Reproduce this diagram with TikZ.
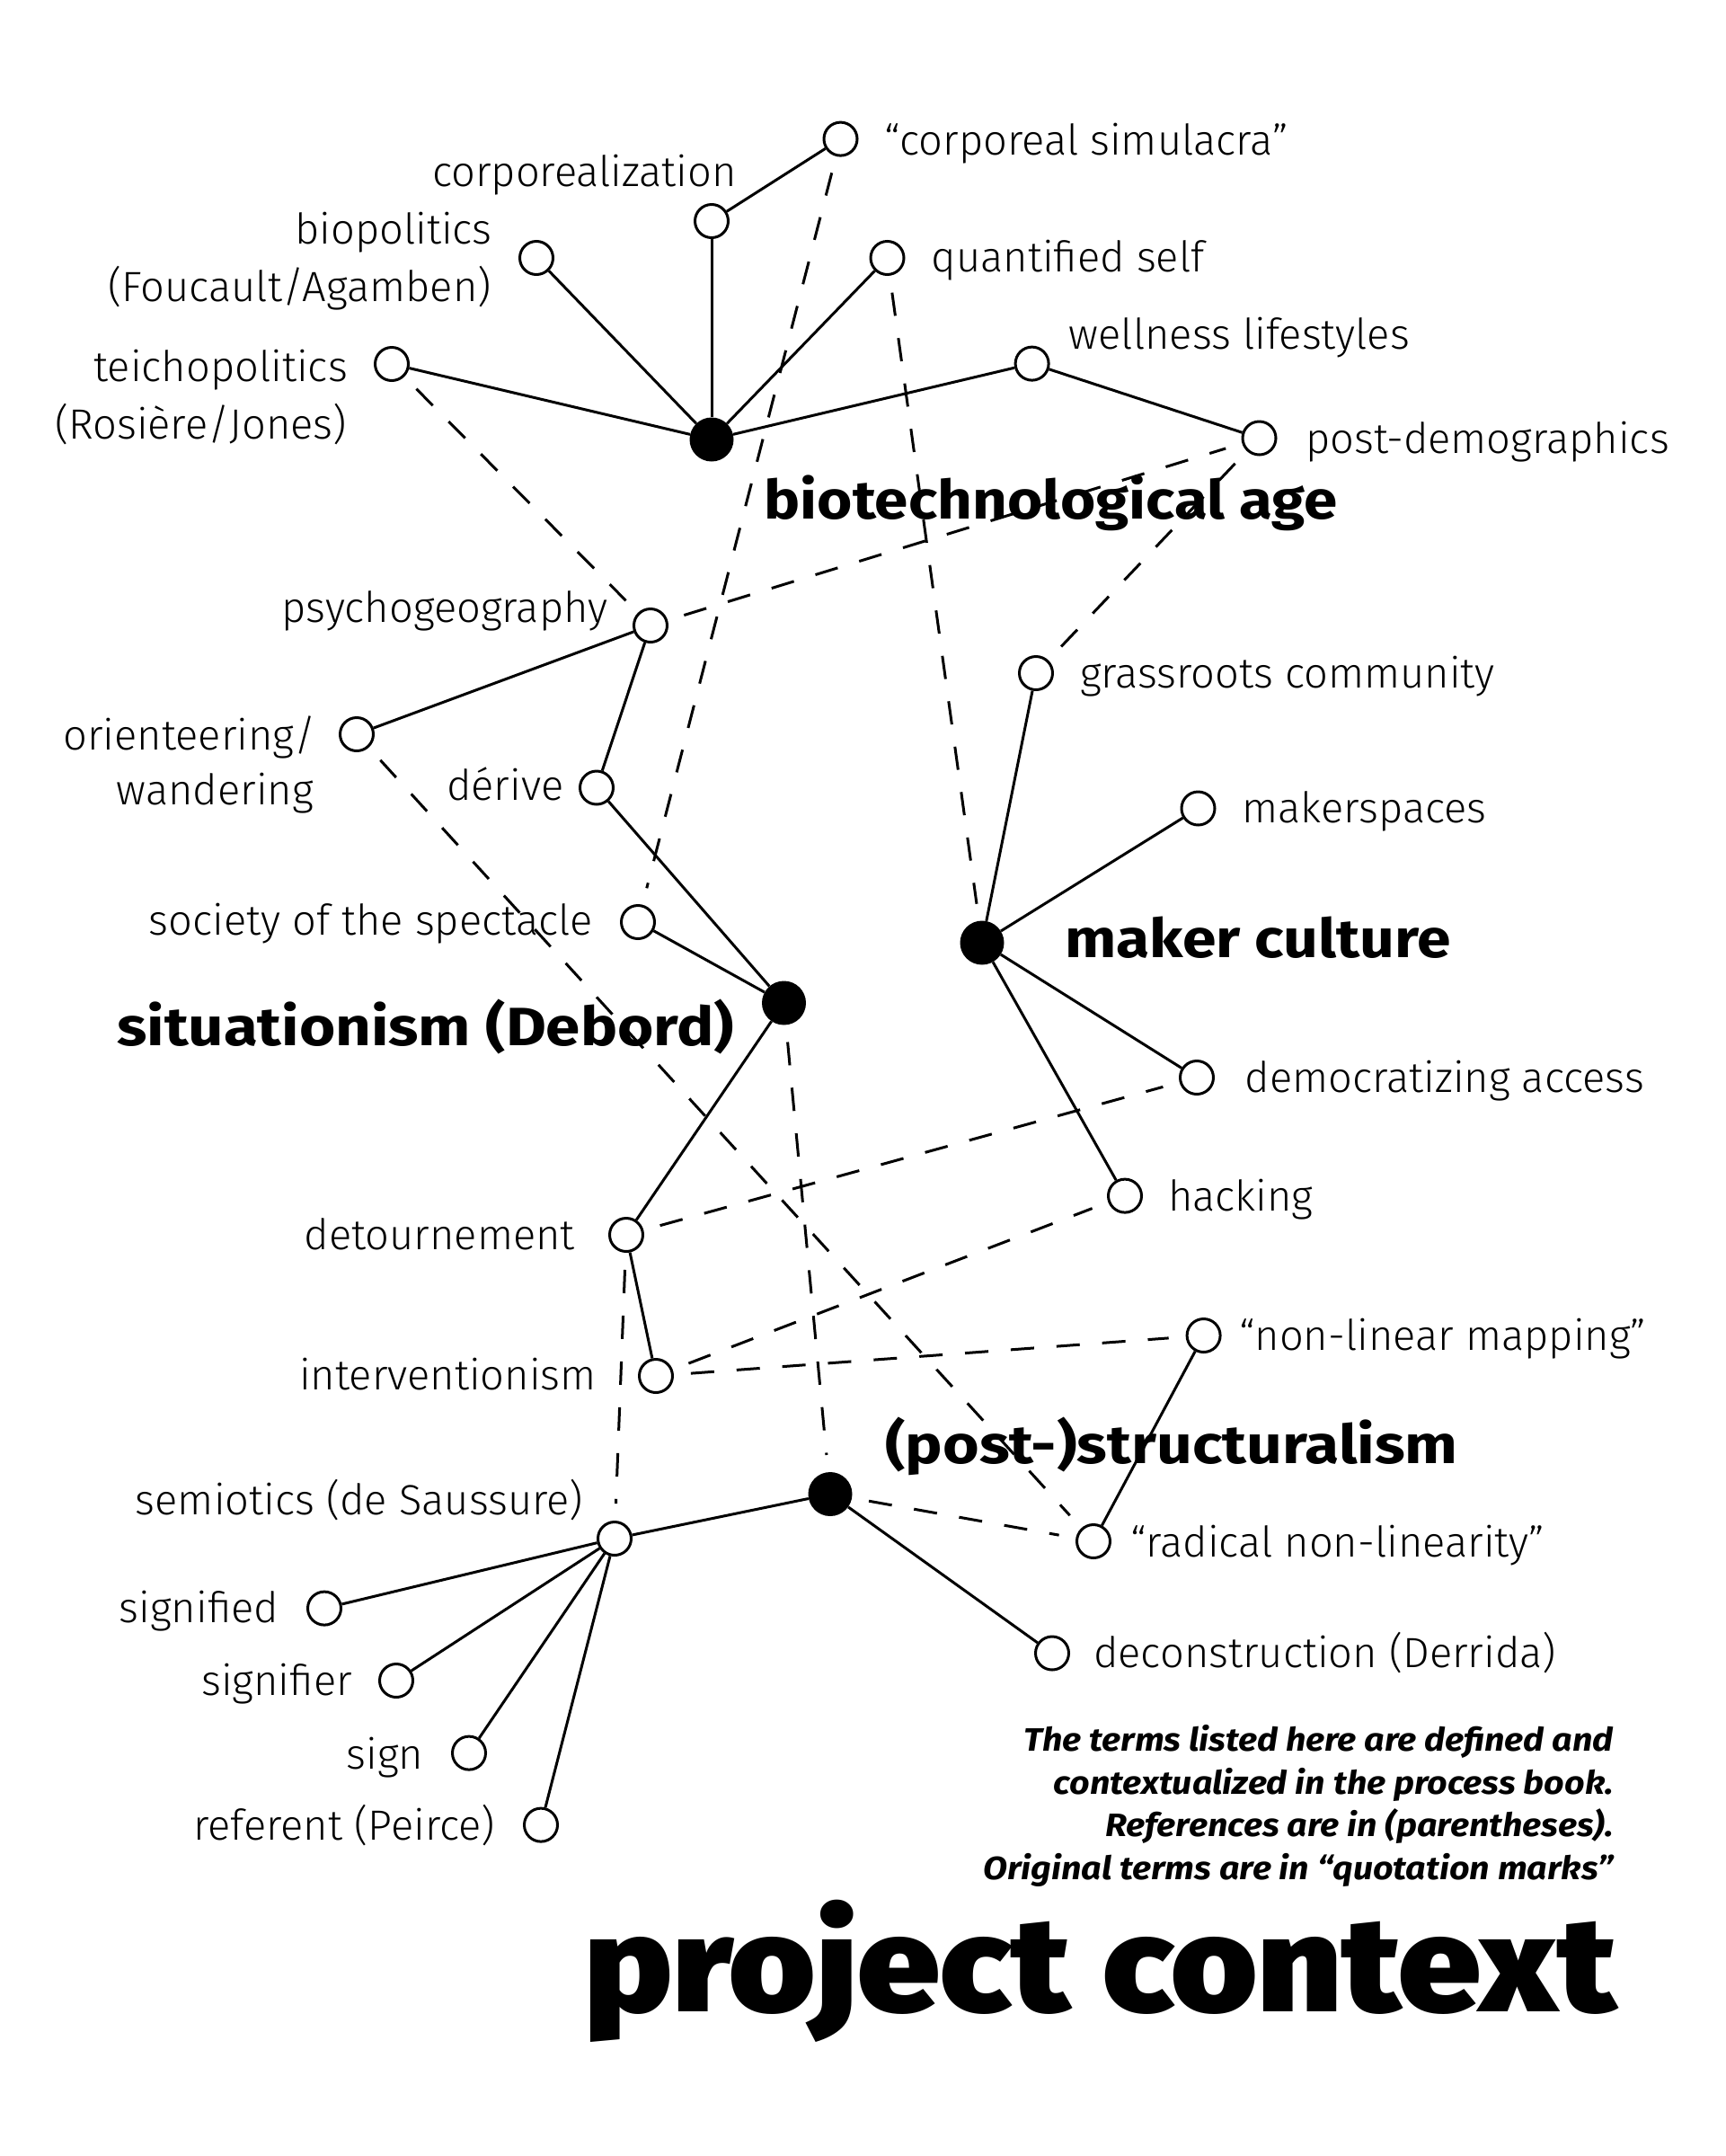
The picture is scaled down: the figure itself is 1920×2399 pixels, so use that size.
\documentclass[tikz,border=0pt]{standalone}
\usepackage{fontspec}
\IfFontExistsTF{Fira Sans Light}{\newfontfamily\lightf{Fira Sans Light}}{\newfontfamily\lightf{Fira Sans}}
\newfontfamily\widef{Fira Sans}[FakeStretch=1.13]
\newfontfamily\notef{Fira Sans}[FakeStretch=1.095]
\IfFontExistsTF{Fira Sans Black}{\newfontfamily\heavyf{Fira Sans Black}[FakeStretch=1.099]}{%
  \IfFontExistsTF{Fira Sans ExtraBold}{\newfontfamily\heavyf{Fira Sans ExtraBold}[FakeStretch=1.099]}{\newfontfamily\heavyf{Fira Sans}[FakeStretch=1.099,UprightFont=*,BoldFont=*]}}
\newcommand\boldf{\widef\bfseries}
\newcommand\bitf{\notef\bfseries\itshape}
\begin{document}
\begin{tikzpicture}[x=1pt,y=-1pt,
  leaf/.style={circle,draw,line width=3pt,fill=white,minimum size=37pt,inner sep=0pt},
  hub/.style={circle,fill=black,minimum size=49pt,inner sep=0pt},
  solidc/.style={line width=3pt},
  dashc/.style={line width=3pt,dash pattern=on 26pt off 25pt,shorten <=19pt,shorten >=19pt},
  lbl/.style={inner sep=0pt,font=\lightf\fontsize{47}{56}\selectfont},
  lblL/.style={lbl,anchor=base east},
  lblR/.style={lbl,anchor=base west},
  hubl/.style={inner sep=0pt,anchor=base west,font=\boldf\fontsize{60}{72}\selectfont},
]
\fill[white] (0,0) rectangle (1920,2399);
\useasboundingbox (0,0) rectangle (1920,2399);

% hubs
\node[hub] (bio) at (792,489) {};
\node[hub] (sit) at (872.5,1116) {};
\node[hub] (mak) at (1093,1049) {};
\node[hub] (str) at (924,1662.5) {};

% leaves
\node[leaf] (cs) at (935.5,154.6) {};
\node[leaf] (corp) at (792,246) {};
\node[leaf] (biop) at (597,287) {};
\node[leaf] (teich) at (436,405) {};
\node[leaf] (qs) at (987.5,287) {};
\node[leaf] (well) at (1148.6,404.6) {};
\node[leaf] (pd) at (1401.5,487.5) {};
\node[leaf] (psy) at (724,696) {};
\node[leaf] (grass) at (1153,749) {};
\node[leaf] (orient) at (397,817) {};
\node[leaf] (derive) at (664,876.5) {};
\node[leaf] (mksp) at (1333.5,899.5) {};
\node[leaf] (soc) at (710,1026) {};
\node[leaf] (demo) at (1332,1199) {};
\node[leaf] (hack) at (1252,1330.6) {};
\node[leaf] (detour) at (697,1374) {};
\node[leaf] (nlm) at (1339.6,1486) {};
\node[leaf] (interv) at (730,1531) {};
\node[leaf] (semio) at (684,1712) {};
\node[leaf] (rnl) at (1217,1715) {};
\node[leaf] (sigd) at (361,1789.6) {};
\node[leaf] (decon) at (1171,1839.5) {};
\node[leaf] (sigr) at (441,1870) {};
\node[leaf] (sign) at (522,1950.6) {};
\node[leaf] (ref) at (602,2030.6) {};

% solid connectors
\draw[solidc] (bio) -- (teich);
\draw[solidc] (bio) -- (biop);
\draw[solidc] (bio) -- (corp);
\draw[solidc] (bio) -- (qs);
\draw[solidc] (bio) -- (well);
\draw[solidc] (corp) -- (cs);
\draw[solidc] (well) -- (pd);
\draw[solidc] (psy) -- (orient);
\draw[solidc] (psy) -- (derive);
\draw[solidc] (derive) -- (sit);
\draw[solidc] (soc) -- (sit);
\draw[solidc] (sit) -- (detour);
\draw[solidc] (detour) -- (interv);
\draw[solidc] (mak) -- (grass);
\draw[solidc] (mak) -- (mksp);
\draw[solidc] (mak) -- (demo);
\draw[solidc] (mak) -- (hack);
\draw[solidc] (str) -- (semio);
\draw[solidc] (str) -- (decon);
\draw[solidc] (nlm) -- (rnl);
\draw[solidc] (semio) -- (sigd);
\draw[solidc] (semio) -- (sigr);
\draw[solidc] (semio) -- (sign);
\draw[solidc] (semio) -- (ref);

% dashed connectors
\draw[dashc] (teich) -- (psy);
\draw[dashc] (psy) -- (pd);
\draw[dashc] (cs) -- (soc);
\draw[dashc] (qs) -- (mak);
\draw[dashc] (pd) -- (grass);
\draw[dashc] (orient) -- (rnl);
\draw[dashc] (sit) -- (str);
\draw[dashc] (detour) -- (demo);
\draw[dashc] (detour) -- (semio);
\draw[dashc] (interv) -- (hack);
\draw[dashc] (interv) -- (nlm);
\draw[dashc] (str) -- (rnl);

% leaf labels
\node[lblL] (tcorp) at (820,207) {corporealization};
\node[lblL] (tbiop1) at (548,271) {biopolitics};
\node[lblL] (tbiop2) at (547,335) {(Foucault/Agamben)};
\node[lblL] (tteich1) at (387,424) {teichopolitics};
\node[lblL] (tteich2) at (386,488) {(Rosière/Jones)};
\node[lblL] (tpsy) at (676.5,692) {psychogeography};
\node[lblL] (torient1) at (352,834) {orienteering/};
\node[lblL] (torient2) at (349,895) {wandering};
\node[lblL] (tderive) at (627.6,890) {dérive};
\node[lblL] (tsoc) at (660,1040.5) {society of the spectacle};
\node[lblL] (tdetour) at (640,1390) {detournement};
\node[lblL] (tinterv) at (664,1546) {interventionism};
\node[lblL] (tsemio) at (649,1685) {semiotics (de Saussure)};
\node[lblL] (tsigd) at (310.4,1805) {signified};
\node[lblL] (tsigr) at (392,1886) {signifier};
\node[lblL] (tsign) at (471.5,1968) {sign};
\node[lblL] (tref) at (551,2047) {referent (Peirce)};
\node[lblR] (tcs) at (984.5,172) {“corporeal simulacra”};
\node[lblR] (tqs) at (1036.5,302) {quantified self};
\node[lblR] (twell) at (1189.6,388) {wellness lifestyles};
\node[lblR] (tpd) at (1453,504) {post-demographics};
\node[lblR] (tgrass) at (1202,765) {grassroots community};
\node[lblR] (tmksp) at (1382.5,915.5) {makerspaces};
\node[lblR] (tdemo) at (1385.6,1215) {democratizing access};
\node[lblR] (thack) at (1300,1347) {hacking};
\node[lblR] (tnlm) at (1379,1502) {“non-linear mapping”};
\node[lblR] (trnl) at (1258,1732) {“radical non-linearity”};
\node[lblR] (tdecon) at (1217,1855.5) {deconstruction (Derrida)};

% hub labels
\node[hubl] (tbio) at (850.5,577) {\scalebox{0.993}[1]{biotechnological age}};
\node[hubl] (tmak) at (1185,1065) {maker culture};
\node[hubl] (tsit) at (130,1163) {\scalebox{1.018}[1]{situationism (Debord)}};
\node[hubl] (tstr) at (985,1628) {\scalebox{1.027}[1]{(post-)structuralism}};

% note
\node[inner sep=0pt,anchor=north east,align=right,font=\bitf\fontsize{36}{47.7}\selectfont] (note) at (1796,1919)
  {The terms listed here are defined and\\contextualized in the process book.\\References are in (parentheses).\\Original terms are in “quotation marks”};

% title
\node[inner sep=0pt,anchor=base west,font=\heavyf\fontsize{150}{150}\selectfont] (title) at (650,2238) {project context};
\end{tikzpicture}
\end{document}
